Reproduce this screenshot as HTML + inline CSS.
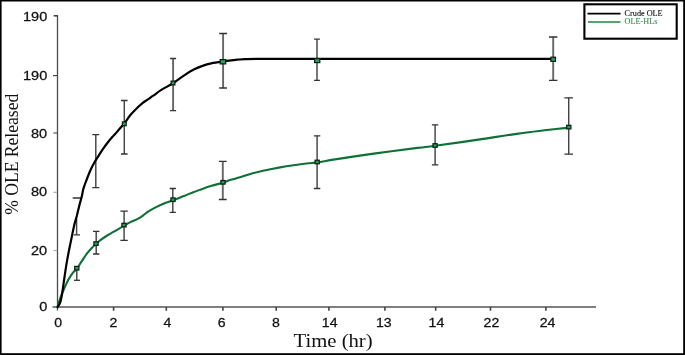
<!DOCTYPE html>
<html><head><meta charset="utf-8">
<style>
html,body{margin:0;padding:0;background:#fff;}
body{width:685px;height:355px;overflow:hidden;position:relative;}
svg{position:absolute;left:0;top:0;display:block;will-change:transform;}
.tk{font-family:"Liberation Sans",sans-serif;font-size:12.5px;fill:#111;stroke:#111;stroke-width:0.25px;}
.sr{font-family:"Liberation Serif",serif;}
.v{stroke:#444;stroke-width:1.45px;}
.w{stroke:#666;stroke-width:1.9px;}
</style></head><body>
<svg width="685" height="355" viewBox="0 0 685 355">
<rect x="0" y="0" width="685" height="355" fill="#fff"/>
<rect x="0" y="0" width="685" height="1.5" fill="#000"/>
<rect x="0" y="0" width="1.6" height="355" fill="#000"/>
<rect x="683.2" y="0" width="1.8" height="355" fill="#000"/>
<rect x="0" y="353.2" width="685" height="1.8" fill="#000"/>
<g stroke="#4a4a4a" stroke-width="1.3" fill="none">
<line x1="57.5" y1="15.2" x2="57.5" y2="310.5"/>
<line x1="52.5" y1="307" x2="596" y2="307" stroke-width="1.6" stroke="#555"/>
</g>
<g stroke="#555" stroke-width="1.2" fill="none">
<line x1="53.7" y1="15.8" x2="57.6" y2="15.8" stroke="#333" stroke-width="1.5"/>
<line x1="53" y1="75.6" x2="57.2" y2="75.6" stroke="#444"/>
<line x1="53.5" y1="133" x2="57.2" y2="133"/>
<line x1="53.5" y1="192.3" x2="57.2" y2="192.3" stroke="#aaa"/>
<line x1="53.5" y1="250.5" x2="57.2" y2="250.5" stroke="#aaa"/>
<line x1="113.6" y1="307" x2="113.6" y2="310.8" stroke-width="1.6" stroke="#444"/>
<line x1="166.3" y1="307" x2="166.3" y2="310.8" stroke-width="1.6" stroke="#444"/>
<line x1="222.9" y1="307" x2="222.9" y2="310.8" stroke-width="1.6" stroke="#444"/>
<line x1="276.2" y1="307" x2="276.2" y2="310.8" stroke-width="1.6" stroke="#444"/>
<line x1="328.9" y1="307" x2="328.9" y2="310.8" stroke-width="1.6" stroke="#444"/>
<line x1="384.9" y1="307" x2="384.9" y2="310.8" stroke-width="1.6" stroke="#444"/>
<line x1="435.7" y1="307" x2="435.7" y2="310.8" stroke-width="1.6" stroke="#444"/>
<line x1="490.5" y1="307" x2="490.5" y2="310.8" stroke-width="1.6" stroke="#444"/>
<line x1="545.9" y1="307" x2="545.9" y2="310.8" stroke-width="1.6" stroke="#444"/>
</g>
<g class="tk" text-anchor="end">
<text transform="translate(47.2,20.8) scale(1.19,1)" style="font-size:12.2px">190</text>
<text transform="translate(47.2,80.4) scale(1.19,1)" style="font-size:12.2px">190</text>
<text transform="translate(47.2,138.1) scale(1.19,1)" style="font-size:12.2px">80</text>
<text transform="translate(47.2,196.2) scale(1.19,1)" style="font-size:12.2px">80</text>
<text transform="translate(47.2,255) scale(1.19,1)" style="font-size:12.2px">20</text>
<text transform="translate(47.2,311.4) scale(1.19,1)" style="font-size:12.2px">0</text>
</g>
<g class="tk" text-anchor="middle">
<text transform="translate(58.05,326.8) scale(1.13,1)">0</text>
<text transform="translate(113.4,326.8) scale(1.13,1)">2</text>
<text transform="translate(167.45,326.8) scale(1.13,1)">4</text>
<text transform="translate(221.6,326.8) scale(1.13,1)">6</text>
<text transform="translate(275.95,326.8) scale(1.13,1)">8</text>
<text transform="translate(329.7,326.8) scale(1.13,1)">14</text>
<text transform="translate(383.75,326.8) scale(1.13,1)">13</text>
<text transform="translate(436.4,326.8) scale(1.13,1)">14</text>
<text transform="translate(491.4,326.8) scale(1.13,1)">22</text>
<text transform="translate(547.6,326.8) scale(1.13,1)">24</text>
</g>
<text class="sr" transform="translate(333.1,346.6) scale(1.15,1)" text-anchor="middle" font-size="18" fill="#111">Time (hr)</text>
<text class="sr" transform="translate(17.8,154.3) rotate(-90) scale(1,1.12)" text-anchor="middle" font-size="17.6" fill="#111">% OLE Released</text>
<g stroke="#333" stroke-width="1.3" fill="none">
<path d="M72.7 198H81.2M73.6 234.8H80"/><path class="v" d="M76.6 219V234.8"/>
<path class="v" d="M95.8 134.6V187.6"/><path d="M92.3 134.6H99.3M92.3 187.6H99.3"/>
<path class="v" d="M124.3 100.5V154"/><path d="M121.0 100.5H127.6M121.0 154H127.6"/>
<path class="w" d="M173.1 58.5V110.7"/><path d="M170.1 58.5H176.1M170.1 110.7H176.1"/>
<path class="w" d="M223.1 33.5V88"/><path d="M219.2 33.5H227.0M219.2 88H227.0"/>
<path class="v" d="M317 39.2V80.4"/><path d="M314.1 39.2H319.9M314.1 80.4H319.9"/>
<path class="w" d="M553.2 37V80.4"/><path d="M549.0 37H557.4000000000001M549.0 80.4H557.4000000000001"/>
<path d="M74 280.3H80"/><path class="v" d="M76.8 268V280.3"/>
<path class="v" d="M96.2 231.4V254"/><path d="M93.0 231.4H99.4M93.0 254H99.4"/>
<path class="v" d="M124.1 211.2V240.4"/><path d="M120.39999999999999 211.2H127.8M120.39999999999999 240.4H127.8"/>
<path class="v" d="M172.8 188.5V212.3"/><path d="M169.70000000000002 188.5H175.9M169.70000000000002 212.3H175.9"/>
<path class="w" d="M222.8 161.4V199.5"/><path d="M218.9 161.4H226.70000000000002M218.9 199.5H226.70000000000002"/>
<path class="v" d="M317.1 135.8V188.5"/><path d="M313.90000000000003 135.8H320.3M313.90000000000003 188.5H320.3"/>
<path class="v" d="M435.1 124.8V164.8"/><path d="M431.90000000000003 124.8H438.3M431.90000000000003 164.8H438.3"/>
<path class="v" d="M568.7 97.8V154.1"/><path d="M564.4000000000001 97.8H573.0M564.4000000000001 154.1H573.0"/>
</g>
<path transform="translate(0,0.6)" fill="none" stroke="#0f7036" stroke-width="2.1" stroke-linejoin="round" stroke-linecap="round" d="M57.6 306.4 C57.8 305.8 58.3 303.7 58.7 302.5 C59.1 301.3 59.4 300.1 59.8 299.0 C60.2 297.9 60.5 297.0 61.0 295.8 C61.5 294.6 62.0 293.2 62.6 291.8 C63.2 290.4 63.8 288.9 64.4 287.5 C65.0 286.1 65.6 284.8 66.2 283.5 C66.8 282.2 67.5 280.8 68.2 279.5 C68.9 278.2 69.7 276.8 70.6 275.5 C71.5 274.2 72.4 272.8 73.4 271.6 C74.4 270.4 75.4 270.0 76.8 268.2 C78.2 266.4 80.1 263.1 81.8 260.6 C83.5 258.1 85.2 255.2 86.9 253.0 C88.6 250.8 90.5 248.7 92.0 247.1 C93.5 245.5 94.6 244.9 96.0 243.6 C97.4 242.3 98.5 240.9 100.4 239.5 C102.3 238.1 105.0 236.3 107.2 234.9 C109.5 233.5 111.2 232.7 113.9 231.1 C116.7 229.5 120.9 226.9 123.7 225.3 C126.5 223.7 128.6 222.5 131.0 221.3 C133.4 220.1 136.2 219.2 138.3 218.0 C140.4 216.8 142.0 215.6 143.8 214.3 C145.6 213.0 147.2 211.6 149.3 210.3 C151.4 209.0 153.8 207.7 156.6 206.3 C159.3 204.9 163.1 203.2 165.8 202.1 C168.6 201.0 170.1 200.8 173.1 199.7 C176.1 198.6 180.7 196.7 184.1 195.3 C187.5 194.0 190.2 192.8 193.3 191.6 C196.4 190.4 199.4 189.4 202.4 188.3 C205.4 187.2 208.2 186.2 211.6 185.2 C215.0 184.2 219.9 183.0 223.0 182.1 C226.1 181.2 227.1 180.4 229.9 179.5 C232.7 178.6 236.7 177.7 240.0 176.7 C243.3 175.7 245.6 174.7 249.6 173.6 C253.6 172.5 259.3 171.1 264.2 170.0 C269.1 168.9 273.9 167.9 278.8 167.0 C283.7 166.1 288.5 165.3 293.4 164.6 C298.3 163.9 304.0 163.2 308.0 162.7 C312.0 162.2 312.7 162.5 317.2 161.8 C321.7 161.2 325.6 160.3 335.0 158.8 C344.4 157.3 360.0 154.9 373.8 153.0 C387.6 151.1 407.4 148.6 417.6 147.3 C427.8 146.0 424.7 146.6 435.1 145.2 C445.5 143.8 466.1 140.8 480.0 138.8 C493.9 136.8 503.4 135.0 518.2 133.0 C533.0 131.0 560.4 128.0 568.8 127.0"/>
<path transform="translate(0,0.6)" fill="none" stroke="#000" stroke-width="2.2" stroke-linejoin="round" stroke-linecap="round" d="M57.6 306.4 C57.9 306.0 58.8 305.0 59.3 304.0 C59.8 303.0 60.2 301.8 60.6 300.5 C61.0 299.2 61.3 297.6 61.6 296.0 C61.9 294.4 62.1 292.8 62.4 291.0 C62.7 289.2 62.9 287.6 63.2 285.5 C63.5 283.4 63.8 281.2 64.2 278.5 C64.6 275.8 65.1 272.3 65.6 269.0 C66.1 265.7 66.5 263.2 67.3 258.8 C68.1 254.4 69.3 248.2 70.5 242.5 C71.7 236.8 73.2 229.1 74.2 224.6 C75.2 220.1 76.0 218.6 76.8 215.3 C77.6 212.1 78.5 208.3 79.3 205.1 C80.1 201.8 81.1 198.6 81.8 195.8 C82.5 193.0 82.6 191.1 83.3 188.5 C84.0 185.9 84.9 183.6 86.1 180.5 C87.3 177.4 88.9 173.1 90.3 169.9 C91.7 166.8 92.9 164.4 94.5 161.6 C96.1 158.8 98.3 155.6 99.9 153.1 C101.5 150.6 102.7 148.8 104.1 146.8 C105.5 144.8 106.9 142.9 108.3 141.1 C109.7 139.3 111.1 137.8 112.5 136.2 C113.9 134.6 115.4 133.1 116.8 131.5 C118.2 129.9 119.7 128.1 121.0 126.6 C122.3 125.1 122.9 124.7 124.5 122.6 C126.1 120.5 128.6 116.6 130.6 114.2 C132.6 111.8 134.4 110.1 136.3 108.2 C138.2 106.3 140.0 104.5 141.9 103.0 C143.8 101.5 145.6 100.4 147.5 99.1 C149.4 97.8 150.9 96.7 153.2 95.1 C155.5 93.5 158.0 91.4 161.3 89.3 C164.6 87.2 169.2 85.1 173.1 82.6 C177.0 80.1 181.6 76.5 185.0 74.2 C188.4 71.9 190.9 70.5 193.8 69.0 C196.7 67.5 199.6 66.3 202.5 65.3 C205.4 64.2 207.9 63.4 211.3 62.7 C214.7 62.0 220.0 61.3 222.9 60.9 C225.8 60.5 226.4 60.4 228.8 60.1 C231.2 59.8 234.8 59.4 237.5 59.1 C240.2 58.9 241.2 58.7 245.0 58.6 C248.8 58.5 254.2 58.3 260.0 58.3 C265.8 58.2 276.7 58.3 280.0 58.3 L553 58.3"/>
<g fill="#22a058" stroke="#0c1c12" stroke-width="1.2">
<rect x="74.7" y="266.4" width="4.2" height="3.6"/>
<rect x="93.9" y="241.8" width="4.2" height="3.6"/>
<rect x="121.9" y="223.3" width="4.2" height="3.6"/>
<rect x="170.9" y="197.9" width="4.2" height="3.6"/>
<rect x="220.9" y="180.5" width="4.2" height="3.6"/>
<rect x="315.1" y="160.2" width="4.2" height="3.6"/>
<rect x="433.0" y="143.7" width="4.2" height="3.6"/>
<rect x="566.7" y="125.3" width="4.2" height="3.6"/>
<rect x="122.4" y="121.9" width="3.8" height="3.8"/>
<rect x="171.1" y="81.1" width="3.8" height="3.8"/>
<rect x="220.2" y="59.6" width="5.5" height="4.3"/>
<rect x="314.6" y="58.6" width="5.2" height="4.0"/>
<rect x="550.9" y="57.2" width="4.6" height="4.2"/>
</g>
<rect x="584.4" y="4.3" width="92.3" height="34.4" fill="#fff" stroke="#000" stroke-width="2.1"/>
<line x1="587.5" y1="13.6" x2="620.5" y2="13.6" stroke="#000" stroke-width="1.6"/>
<line x1="588" y1="22" x2="620.5" y2="22" stroke="#1a8a3a" stroke-width="1.6"/>
<text class="sr" x="624.6" y="15.6" font-size="8.2" fill="#111" stroke="#111" stroke-width="0.12">Crude OLE</text>
<text class="sr" x="624.6" y="23.5" font-size="8.2" fill="#2a9048" stroke="#2a9048" stroke-width="0.08">OLE-HLs</text>
</svg>
</body></html>
